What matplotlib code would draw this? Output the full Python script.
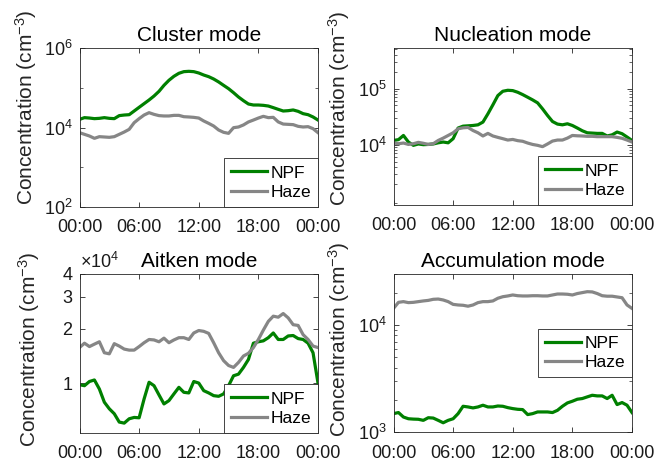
import numpy as np
import matplotlib
matplotlib.use("Agg")
import matplotlib.pyplot as plt
from matplotlib.ticker import LogLocator, FixedLocator, FixedFormatter, NullFormatter

plt.rcParams['font.family'] = ['Liberation Sans', 'DejaVu Sans']
plt.rcParams['mathtext.fontset'] = 'custom'
plt.rcParams['mathtext.rm'] = 'Liberation Sans'
plt.rcParams['mathtext.it'] = 'Liberation Sans:italic'

# time of day in hours (half-hourly)
hours = np.arange(0, 24.5, 0.5)
xtick_pos = [0, 6, 12, 18, 24]
xtick_labels = ['00:00', '06:00', '12:00', '18:00', '00:00']

cluster_npf = [16000, 17700, 17300, 16700, 17000, 17700, 17000, 16700, 19900, 20600,
               21000, 26000, 32200, 39800, 49200, 62000, 81300, 115000, 154000, 194000,
               231000, 254000, 259000, 254000, 235000, 209000, 190000, 166000, 140000, 115000,
               94800, 75200, 58500, 47300, 39000, 36800, 36800, 36100, 34700, 31600,
               28600, 26000, 26500, 27600, 25500, 22300, 21000, 18400, 15400]
cluster_haze = [7410, 6730, 6110, 5340, 5880, 5770, 5660, 5880, 6730, 7700,
                8990, 13200, 16700, 20600, 23600, 21400, 19900, 19500, 19500, 20200,
                20200, 18700, 18400, 18000, 17300, 14600, 12700, 10900, 8650, 7560,
                7130, 9900, 10300, 11600, 13800, 15400, 17300, 19100, 17700, 18000,
                13800, 12200, 12000, 11800, 10700, 10300, 10500, 9350, 7410]

nucl_npf = [11900, 12300, 14600, 11150, 9730, 10300, 10000, 10100, 10300, 10800,
            11150, 10800, 12800, 19800, 21400, 21700, 22000, 22600, 25300, 35500,
            51300, 75100, 89700, 93400, 92100, 86100, 78200, 70200, 62900, 55700,
            43500, 33200, 25900, 23300, 22600, 23600, 22000, 19800, 17700, 16300,
            16100, 15900, 15900, 14300, 15000, 16800, 15700, 13700, 11900]
nucl_haze = [10700, 10400, 10700, 10100, 10400, 11000, 10600, 10100, 10400, 11900,
             13100, 14600, 16300, 19200, 20000, 20300, 17900, 16300, 14300, 15900,
             14300, 13500, 12800, 12100, 12400, 11800, 11500, 10700, 10100, 9730,
             9220, 10300, 11600, 12100, 12100, 13100, 14600, 14400, 14300, 14100,
             14100, 13900, 13900, 13900, 13900, 13500, 13000, 12100, 11150]

aitken_npf = [9790, 9670, 10200, 10400, 9270, 7840, 7210, 6770, 6090, 6010,
              6350, 6460, 6430, 8170, 10100, 9670, 8600, 7670, 8000, 8710,
              9470, 8890, 8820, 10200, 10000, 9080, 8820, 8520, 8450, 8710,
              9670, 10970, 11200, 12200, 13500, 16600, 16900, 17100, 17800, 18900,
              17400, 17400, 18200, 18300, 17600, 17400, 16600, 14700, 10000]
aitken_haze = [15700, 16600, 15900, 16400, 16900, 14700, 14500, 16500, 16000, 15400,
               15200, 15200, 15900, 16700, 17400, 17300, 16900, 17700, 16700, 17300,
               17800, 17800, 17400, 18900, 19500, 19300, 18800, 16700, 14700, 13300,
               12500, 12200, 13000, 14100, 14600, 15700, 17400, 19600, 21900, 23400,
               23100, 24200, 22900, 21000, 20800, 18500, 17400, 16000, 15700]

accum_npf = [1485, 1520, 1380, 1330, 1320, 1315, 1285, 1360, 1350, 1285,
             1220, 1285, 1330, 1485, 1740, 1715, 1680, 1715, 1780, 1715,
             1715, 1750, 1740, 1690, 1655, 1630, 1620, 1455, 1485, 1540,
             1540, 1540, 1520, 1595, 1740, 1870, 1940, 2025, 2055, 2130,
             2205, 2175, 2175, 2055, 2205, 1805, 1885, 1780, 1520]
accum_haze = [14300, 16300, 16550, 16200, 16300, 16550, 16800, 17000, 17400, 17500,
              17150, 16550, 15600, 15400, 15300, 15000, 15400, 16200, 16550, 16550,
              16800, 17800, 18400, 18700, 19100, 18800, 18700, 18700, 18800, 18800,
              18700, 18700, 19100, 19500, 19500, 19400, 19100, 19700, 20100, 20500,
              20400, 19700, 18800, 18600, 18600, 18300, 18000, 15400, 14300]

titles = ['Cluster mode', 'Nucleation mode', 'Aitken mode', 'Accumulation mode']
series_labels = ['NPF', 'Haze']
aitken_ticks = [1e4, 2e4, 3e4, 4e4]
aitken_ticklabels = ['1', '2', '3', '4']

GREEN = '#008000'
GRAY = '#868686'
AXC = '#262626'

fig = plt.figure(figsize=(6.59, 4.62), dpi=100)
W, H = 659, 462

def make_ax(l, r, t, b):
    return fig.add_axes([l / W, 1 - b / H, (r - l) / W, (b - t) / H])

ax1 = make_ax(79.5, 318, 48, 207)
ax2 = make_ax(393.5, 632, 48, 205)
ax3 = make_ax(79.5, 318, 274, 433)
ax4 = make_ax(393.5, 632, 274, 432)

data = [(cluster_npf, cluster_haze), (nucl_npf, nucl_haze),
        (aitken_npf, aitken_haze), (accum_npf, accum_haze)]
ylims = [(1e2, 1e6), (840, 5.3e5), (5.3e3, 4e4), (1e3, 3e4)]
legend_locs = ['lower right', 'lower right', 'lower right', 'center right']
ylabel_coords = [(-0.170, 0.626), (-0.174, 0.615), (-0.157, 0.528), (-0.174, 0.589)]

for i, ax in enumerate([ax1, ax2, ax3, ax4]):
    npf, haze = data[i]
    ax.plot(hours, npf, color=GREEN, lw=2.3, label=series_labels[0])
    ax.plot(hours, haze, color=GRAY, lw=2.3, label=series_labels[1])
    ax.set_yscale('log')
    ax.set_xlim(0, 24)
    ax.set_ylim(*ylims[i])
    ax.set_xticks(xtick_pos)
    ax.set_xticklabels(xtick_labels)
    ax.set_title(titles[i], fontsize=15, pad=5, color='black')
    ax.set_ylabel('Concentration (cm$^{-3}$)', fontsize=15, color=AXC)
    ax.yaxis.set_label_coords(*ylabel_coords[i])
    for s in ax.spines.values():
        s.set_color(AXC)
        s.set_linewidth(0.6)
    ax.tick_params(which='both', direction='in', top=True, right=True,
                   labelsize=13, colors=AXC, labelcolor='#1a1a1a')
    ax.tick_params(which='major', length=3.5, width=0.6)
    ax.tick_params(axis='y', which='major', pad=5)
    ax.tick_params(axis='x', which='major', pad=9)
    ax.tick_params(which='minor', length=2, width=0.5)
    leg = ax.legend(loc=legend_locs[i], fontsize=12.5, borderaxespad=0,
                    fancybox=False, handlelength=2.1, handletextpad=0.2,
                    borderpad=0.4, labelspacing=0.25, framealpha=1)
    leg.get_frame().set_edgecolor(AXC)
    leg.get_frame().set_linewidth(0.6)

ax1.yaxis.set_major_locator(FixedLocator([1e2, 1e4, 1e6]))
ax1.yaxis.set_minor_locator(FixedLocator([1e3, 1e5]))
ax1.yaxis.set_minor_formatter(NullFormatter())
ax2.yaxis.set_major_locator(FixedLocator([1e4, 1e5]))
ax2.yaxis.set_minor_locator(LogLocator(base=10, subs=np.arange(2, 10), numticks=20))
ax2.yaxis.set_minor_formatter(NullFormatter())
ax3.yaxis.set_major_locator(FixedLocator(aitken_ticks))
ax3.yaxis.set_major_formatter(FixedFormatter(aitken_ticklabels))
ax3.yaxis.set_minor_locator(FixedLocator([]))
ax3.yaxis.set_minor_formatter(NullFormatter())
ax3.text(0.0, 1.015, r'$\times10^{4}$', transform=ax3.transAxes, fontsize=13,
         ha='left', va='bottom', color='#1a1a1a')
ax4.yaxis.set_major_locator(FixedLocator([1e3, 1e4]))
ax4.yaxis.set_minor_locator(LogLocator(base=10, subs=np.arange(2, 10), numticks=20))
ax4.yaxis.set_minor_formatter(NullFormatter())

fig.savefig('out.png', dpi=100)
